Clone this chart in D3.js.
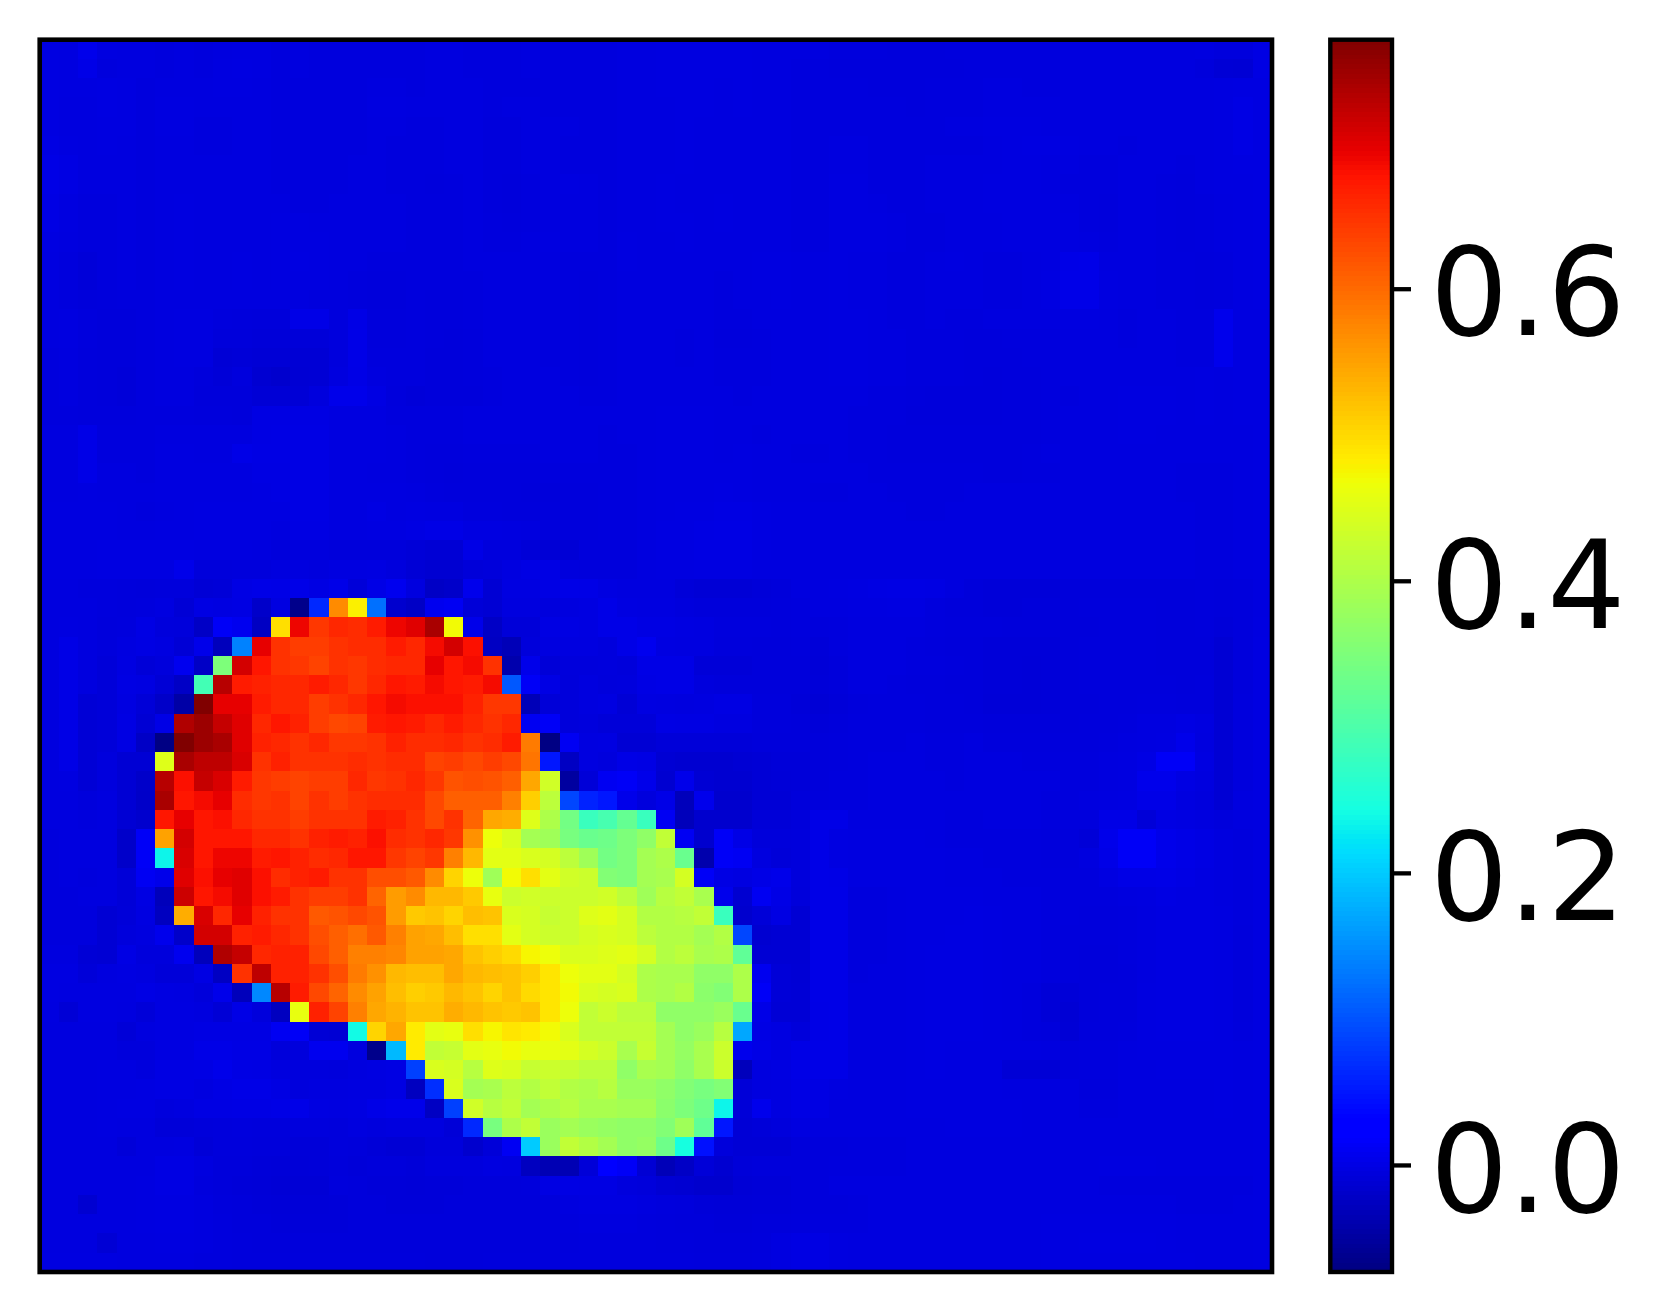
<!DOCTYPE html>
<html>
<head>
<meta charset="utf-8">
<script src="https://cdnjs.cloudflare.com/ajax/libs/d3/7.8.5/d3.min.js"></script>
<style>
  html, body { margin: 0; background: #fff; }
  svg { display: block; }
</style>
</head>
<body>
<div id="chart"></div>
<script>
// heat values, in thousandths, 64 rows of 64 cells
var heat = [
[2,1,9,1,0,0,-1,0, -1,0,1,1,-1,0,-1,-1, -1,-1,-1,-1,0,0,-1,-1, -1,0,-1,-1,-1,-1,0,0, 1,1,1,1,1,0,0,0, 0,-1,-1,-1,-2,-2,-2,-1, -1,-1,-1,-1,-1,0,0,0, 0,0,0,0,1,-1,-1,3],
[2,1,6,-1,0,0,-1,0, -1,1,2,1,-1,0,-1,-1, -1,-1,-1,-1,0,0,-1,-1, -1,0,-1,-1,-1,-1,0,0, 1,1,1,1,1,0,0,-1, -1,-2,-2,-2,-2,-2,-2,-2, -1,-1,-1,-1,-1,0,0,0, 0,0,0,0,-2,-6,-7,3],
[2,1,1,2,1,-1,0,0, 0,1,1,0,-1,-1,-1,-1, -1,0,0,-1,0,0,0,-1, -1,-1,-1,-1,-1,-1,0,0, 1,1,1,0,1,0,0,-1, -1,-1,-1,-2,-2,-2,-1,-1, -1,0,0,-1,-1,0,0,0, 0,0,0,0,0,1,2,2],
[2,0,0,2,1,-1,1,1, 0,0,0,0,-1,-1,-1,-1, -1,1,1,0,0,0,0,-1, 0,0,-1,-1,-1,-1,0,0, 0,1,1,0,1,0,0,-1, -1,-1,-1,-1,-1,-2,-1,-1, -1,0,0,0,0,0,0,0, 0,0,0,0,0,1,4,2],
[2,0,0,1,1,-1,1,1, -1,-1,0,0,-1,-1,-1,-1, -1,0,0,-1,-1,0,0,-2, -2,0,0,0,-1,-1,0,0, 0,1,0,0,0,0,0,-1, -1,-1,-1,-1,-1,-1,-1,0, 0,1,1,1,0,0,0,0, 0,0,0,0,0,1,4,2],
[3,1,0,1,0,-1,0,0, -1,-1,0,0,-1,-1,-1,-1, -1,0,-1,-1,-1,0,0,-2, -2,0,0,-1,-1,-1,0,0, 0,1,0,0,0,0,0,-1, -1,0,0,-1,-1,-1,-1,-1, -1,0,1,2,2,1,0,0, -1,0,0,0,0,1,4,2],
[5,3,0,0,0,-1,0,0, 0,0,0,0,-1,-1,-1,-1, 0,0,-1,-1,-1,0,0,-2, -2,0,0,-1,-1,-1,0,0, 0,1,0,0,0,0,0,-1, -1,0,0,-1,-1,-1,0,0, 0,0,1,1,0,0,-1,-1, 0,0,0,-1,0,1,2,2],
[5,3,0,0,0,-1,0,0, 0,0,0,0,-1,-1,-1,-1, 0,0,-1,-1,-2,-1,0,-2, -3,-1,0,1,0,-1,0,0, 1,0,0,0,0,0,0,-1, -1,1,1,-1,-1,-1,0,0, 0,1,1,1,0,-1,-1,-1, 0,0,-1,-2,0,1,1,2],
[4,1,-1,-1,0,-1,0,1, 0,0,0,0,0,-1,-1,0, 0,0,0,-1,-1,-1,0,-2, -3,-1,0,0,0,-1,0,0, 1,0,0,1,0,0,0,-1, -1,1,1,0,-1,-1,0,0, 0,1,1,1,1,0,-1,-2, 0,0,-1,-2,-1,0,1,2],
[4,1,-1,-1,0,-1,0,1, 0,0,0,0,1,1,0,0, 0,0,0,-1,-1,-1,0,-1, -2,-1,0,0,0,-1,0,0, 1,1,0,1,0,0,0,-1, -1,1,1,1,0,-1,-1,0, 0,0,1,1,1,1,-1,-2, 0,0,-1,-2,-1,0,1,2],
[2,0,-1,-1,0,-1,0,1, 0,0,0,0,1,1,1,0, 0,0,0,-1,-1,-1,0,-1, -1,0,1,0,0,-1,1,0, 0,1,0,0,0,0,0,-1, -1,1,1,1,0,-1,-1,0, 0,0,1,1,1,1,0,-1, 0,0,-1,-2,-1,0,1,2],
[1,-1,-4,-1,0,-1,0,1, 0,0,1,0,1,2,1,0, 0,-1,-1,-1,-1,-1,0,0, 0,0,0,-1,-1,-1,1,0, 0,0,0,0,0,1,1,0, 0,1,0,0,-1,-1,0,1, 0,-1,-1,0,1,6,7,0, 0,0,-1,-1,-2,-1,1,2],
[1,-1,-4,-1,0,-1,0,1, 0,0,1,0,1,1,1,0, -1,-2,-2,-1,-1,-1,-1,0, 0,0,0,-1,-2,-1,0,0, 0,0,0,-1,0,1,1,0, 0,1,0,0,-1,-1,0,0, 0,-1,-1,0,2,7,7,1, 0,0,-1,-1,-2,-1,1,2],
[0,-1,-3,-2,-1,-1,0,0, 0,0,0,0,0,0,-1,-1, -2,-3,-3,-1,-2,-2,-1,0, 0,0,-1,-1,-2,-1,0,0, 0,0,0,-1,0,0,1,0, 0,1,0,0,-1,-1,0,0, 0,-1,-1,0,2,7,7,1, 0,0,-1,-1,-2,-1,1,2],
[0,1,-1,-3,-3,-1,0,1, 1,-1,-2,-3,-3,6,6,-1, 5,-2,-2,-1,-2,-2,-1,0, 0,0,-1,-1,-2,-1,0,0, 0,0,0,-1,-1,0,0,0, 0,1,1,0,-1,-1,0,-1, -1,0,0,0,0,1,1,0, -1,0,0,-1,-1,10,1,1],
[0,1,-1,-3,-3,-1,0,1, 1,-3,-3,-4,-4,-4,-4,-1, 6,-2,-2,-1,-2,-3,-2,0, 0,0,-1,-1,-2,-1,0,0, 0,-1,0,-2,-2,-1,0,0, 0,1,1,0,0,-1,-1,-1, -2,-2,-1,-1,-1,0,0,0, -1,0,0,-1,-1,10,1,1],
[-1,0,-2,-3,-3,-1,0,1, 1,-6,-5,-6,-6,-7,-7,-1, 6,-1,-1,-1,-3,-3,-2,0, 0,0,-1,-1,-2,-1,0,0, 0,-1,0,-1,-1,-1,0,0, 0,1,1,0,0,-1,-1,-1, -2,-2,-2,-1,-1,0,0,0, 0,0,0,-1,-1,10,1,1],
[-1,0,-2,-3,-4,-1,0,0, -2,-5,-1,-9,-12,-8,-7,0, 5,0,-1,-1,-3,-3,-2,-1, 0,0,0,-1,-2,-1,0,0, 0,0,0,-1,-1,-1,0,0, 0,1,1,0,0,-1,-1,-1, -2,-3,-2,-2,-1,0,0,0, 0,0,0,0,1,0,1,1],
[-1,0,-2,-3,-4,-1,0,0, -3,-3,-3,-6,-6,-6,-1,8, 8,3,-2,-4,-3,-3,-3,-1, 0,0,0,0,-1,-1,0,0, 0,0,0,0,-1,0,0,0, 0,0,0,-1,-1,-2,-3,-3, -3,-3,-2,-2,-1,-1,0,0, 1,1,1,0,1,0,1,1],
[-1,-1,-2,-2,-2,-1,-1,-1, -2,-2,-3,3,3,3,3,1, 1,1,-1,-1,-1,-1,0,0, 0,0,0,0,0,0,0,0, 1,1,1,0,0,0,0,0, 0,0,-1,-1,-1,-3,-3,-3, -3,-3,-2,-2,-1,0,0,0, 1,1,1,0,1,0,1,1],
[0,0,6,-1,-1,-1,0,0, 0,0,0,3,4,4,4,1, 1,1,0,-1,-1,-1,0,0, 0,0,0,0,0,-1,0,0, 1,1,1,0,0,-1,0,0, 0,0,-1,-1,-2,-2,-2,-2, -2,-2,-2,-2,-1,0,0,0, 1,1,0,0,0,0,0,1],
[0,0,6,-1,-1,-1,1,1, 0,0,6,4,4,4,4,1, 1,1,0,-1,-2,-2,-1,-1, -1,-1,0,0,0,-1,-1,0, 1,1,1,0,1,0,0,-1, -1,0,-1,-1,-2,-2,-2,-2, -2,-2,-2,-1,0,0,0,0, 0,0,0,0,0,0,0,1],
[0,0,6,0,0,-1,1,1, 1,1,1,3,3,4,4,1, 1,0,0,-1,-2,-3,-2,-2, -2,-2,-1,-1,-1,-1,-1,0, 1,1,1,1,1,0,0,0, 0,0,0,-1,-1,-1,-1,-1, -1,-2,-2,-1,-1,0,0,0, 0,0,0,-1,-1,-1,0,1],
[0,0,1,0,0,0,1,1, 1,1,1,2,3,4,4,1, 1,1,1,0,-1,-2,-2,-2, -2,-3,-3,-2,-2,-1,-1,0, 1,1,1,2,1,0,0,0, -1,-1,0,0,-1,-1,-1,-1, 0,0,0,0,0,0,0,0, 0,0,0,-1,-1,-1,0,1],
[1,1,1,1,0,-1,0,1, 2,2,2,2,2,4,4,1, 1,3,1,2,1,1,-1,-1, -2,-2,-2,-2,-2,-1,-1,0, 1,2,2,3,3,2,1,1, 0,0,0,0,0,-1,-1,0, 0,0,0,0,0,0,0,0, 0,0,0,0,-1,-1,0,1],
[1,1,1,1,0,0,1,1, 2,2,2,2,0,3,3,1, 1,2,2,3,5,5,2,2, 1,0,-2,-2,-2,-1,-1,0, 2,2,3,4,4,2,1,1, 0,0,0,0,0,0,0,0, 0,0,0,0,0,0,0,0, 0,0,0,0,-1,-1,0,1],
[1,1,1,2,2,2,2,2, 1,1,1,0,-2,-1,-1,-3, -3,-3,-3,-5,-7,-7,5,-1, -1,-5,-6,-6,-2,-2,-2,0, 2,2,3,3,3,1,0,0, 0,0,0,0,0,0,0,0, 0,0,0,0,0,0,0,0, 0,0,0,0,-1,-1,0,1],
[1,1,1,2,2,2,2,8, -3,-3,-2,-2,0,0,-1,1, 1,2,-1,-6,-9,-9,-4,-3, 1,4,4,-1,-2,-2,-2,0, 1,1,2,2,2,0,0,0, 0,0,0,0,0,0,0,0, 0,0,0,0,0,0,0,0, 0,0,0,0,-1,-1,0,1],
[0,0,-1,-1, -2,-3,-2,-2,-6,-5,4,6,5,7,3,7,-4,5,12,0,-18, -15,10,-8,2,2,4,6,5,2,0,0,0,-4,-6,-6,-6, -4,-3, 0,0,1,2,3,4,4,3, 0,-3,-4,-4,-4,-4,-3,-3, -3,-3,-3,-3,-3,-2,-3,-2,0],
[0,0,0,-1, -2,-1,1,-6,3,2,3,-15,2,-65,65,570,480,125,-12,-18,12, 15,-5,-8,0,0,-1,0,2,6,2,1,1,-1,-3,-3,-3, -3,-2, -1,0,0,1,1,2,2,-1, -3,-3,-4,-4,-3,-3,-3,-2, -2,-2,-2,-3,-3,-2,-3,-2,0],
[0,1,0,-2, -1,4,-2,-3,-18,18,12,-20,495,690,645,660,655,670,690,700,740, 470,8,-18,-4,-4,3,3,2,6,6,3,3,2,1,-1,-1, -1,-2, -1,-2,-1,0,0,0,0,-1, -2,-2,-2,-3,-3,-3,-3,-3, -2,-2,-2,-3,-3,-2,-4,-2,1],
[0,5,0,-2, 1,3,1,-6,8,-25,140,695,650,640,640,650,655,655,670,660,685, 710,680,-20,-28,-3,1,1,1,-1,6,12,2,1,1,-2,-2, -3,-3, -2,-4,-1,0,0,0,-1,-2, -3,-3,-4,-4,-4,-4,-3,-2, -2,-2,-2,-3,-3,-3,-8,-2,2],
[0,5,0,-4, 2,-5,-2,12,-18,350,710,675,650,645,635,650,645,655,660,660,695, 675,685,650,-40,8,-5,-2,-2,-1,-3,5,5,5,-5,-5,-5, -3,-3, -3,-5,-3,0,0,0,-1,-1, -2,-3,-4,-4,-5,-4,-3,-2, -2,-2,-2,-3,-3,-3,-8,-2,2],
[0,5,0,-4, 3,2,-6,-18,290,730,670,665,660,660,670,660,645,660,675,670,685, 675,670,685,105,18,4,-3,0,-2,-1,4,5,5,-1,-3,-3, -3,-3, -3,-4,-3,0,0,-1,-2,-2, -3,-3,-4,-4,-5,-4,-3,-2, -2,-2,-2,-2,-3,-2,-8,-2,2],
[0,5,-6,-4, 2,-5,-16,-45,770,695,695,670,660,660,640,650,660,675,685,680,680, 680,665,645,645,-32,-5,-3,0,2,-6,2,1,0,1,3,3, -2,-2, -4,-6,-4,-2,-1,-1,-1,-2, -2,-3,-5,-5,-5,-4,-3,-3, -2,-2,-1,-1,-2,-2,-8,-1,2],
[0,5,-6,-4, 3,-8,5,735,750,720,700,660,675,665,640,630,635,670,675,670,660, 670,660,650,660,14,18,-3,-1,-4,-4,-4,4,3,3,1,1, -2,-2, -3,-4,-3,-1,-1,-1,-1,-2, -2,-2,-3,-3,-3,-3,-3,-2, -2,-1,1,1,3,1,-8,-1,2],
[0,5,-6,-4, 3,-18,-70,770,750,740,700,665,660,650,660,645,645,650,665,655,655, 660,650,655,670,585,-70,15,1,2,-8,-8,-4,-4,-4,-4,-4, -3,-3, -3,-3,-2,-1,-1,-1,0,-1, -1,0,-2,-2,-2,-2,-2,-2, -1,0,1,2,8,0,-8,-1,2],
[0,5,-6,-1, -8,-8,450,740,725,725,705,650,665,650,650,650,655,650,655,655,635, 640,630,640,630,590,50,-20,1,-1,5,4,-8,-10,-10,-10,-8, -6,-4, -4,-3,-2,-1,0,0,0,-1, -1,0,0,0,-1,-1,-1,-1, 0,1,4,18,18,2,-8,-1,2],
[0,1,-6,-1, -8,-15,730,680,720,705,670,645,640,635,640,640,660,645,650,660,645, 620,625,620,610,545,435,-50,-5,14,18,8,-10,8,-8,-10,-10, -6,-5, -4,-3,-1,-1,0,0,0,0, -1,0,0,0,0,0,-1,-1, 0,1,9,9,3,0,-8,-1,2],
[0,0,-2,0, -8,-16,740,675,685,695,655,645,650,635,650,640,650,655,655,655,630, 610,610,610,580,510,415,90,60,50,8,-1,6,-30,10,-12,-12, -6,-6, -3,-2,-1,-1,0,0,0,0, 0,0,0,0,0,-1,-1,0, 1,2,6,6,1,-1,-8,0,2],
[0,0,-1,0, -8,-12,675,695,675,680,660,650,650,640,650,650,650,670,665,650,630, 650,605,545,540,450,400,340,280,295,325,280,15,-30,-12,-12,-12, -5,-5, -3,6,6,0,0,0,0,0, -1,-1,0,0,0,-1,-1,-1, 5,5,-5,3,2,0,-2,0,1],
[-1,0,0,0, -15,18,550,710,675,675,675,660,660,650,665,670,665,680,655,650,660, 645,565,465,445,390,385,345,330,335,350,370,420,15,-12,18,5, -3,-3, -2,6,2,1,1,1,1,0, -1,-1,-1,-1,-1,-2,-2,-5, 8,18,18,8,5,3,0,-1,1],
[-1,0,0,0, -15,18,235,705,675,690,690,670,675,665,655,660,675,675,645,635,645, 580,530,455,455,445,440,415,385,340,350,390,400,330,-40,18,15, 0,-4, -2,6,2,1,1,1,1,1, 0,0,-1,-1,-1,-2,-2,0, 6,18,18,8,5,3,0,-1,1],
[-1,0,-1,0, -5,15,8,700,680,695,700,680,655,665,670,650,650,625,625,615,570, 505,465,385,470,495,455,435,430,355,350,390,395,440,18,4,2, 5,8, -2,6,5,1,1,1,1,1, 0,0,0,-1,-1,-1,-1,-1, 2,5,5,6,4,2,0,-1,1],
[-1,-1,0,0, -5,3,-30,715,675,685,700,680,670,650,640,640,650,605,555,570,530, 530,515,460,430,435,430,430,430,435,415,385,410,420,395,10,-10, 14,5, -3,6,6,-1,-1,0,1,1, 1,1,0,0,0,-1,-1,-1, -1,0,1,3,2,2,0,-1,1],
[-1,-1,-1,-8, -4,2,-22,540,705,660,695,665,650,650,615,620,630,620,555,515,520, 505,525,520,445,440,425,430,450,455,440,405,405,410,420,280,-12, -5,3, -8,6,6,-1,-1,0,1,1, 1,2,1,0,0,-1,-1,-2, -2,-1,0,2,2,2,1,-1,1],
[-1,-1,-1,-8, -2,0,10,-15,710,710,665,670,660,650,625,610,595,615,580,550,545, 525,495,495,455,440,430,430,440,445,440,415,405,405,390,405,90, -10,-8, -8,6,6,-1,-1,0,1,1, 2,2,1,0,0,-1,-2,-2, -2,-1,0,2,2,2,1,-2,1],
[0,0,-6,-8, 4,-2,-2,12,-25,735,720,660,665,665,630,610,580,580,575,550,550, 545,520,510,500,475,465,445,445,450,455,440,405,415,395,400,320, -8,-8, -8,6,6,-1,-1,0,1,2, 2,2,1,0,0,-1,-2,-3, -3,-1,0,2,2,2,1,-2,1],
[2,2,-4,0, 2,0,-4,-4,3,-20,650,725,665,665,650,625,585,565,530,525,525, 545,530,525,520,510,490,465,455,455,440,400,395,395,370,370,400, 12,-5, -7,6,6,-1,0,0,1,2, 2,2,1,0,0,-1,-2,-3, -3,-2,0,2,2,2,1,-2,1],
[2,1,1,1, 1,4,2,1,-3,8,-30,145,730,670,630,605,570,550,525,510,515, 530,520,505,520,500,490,470,445,440,445,400,395,405,365,355,400, 18,-5, -6,6,6,0,0,0,1,2, 2,2,1,0,-1,-5,-5,-3, -2,-2,1,2,2,2,1,-2,1],
[1,-6,1,1, 0,-4,2,2,0,-6,5,-2,-22,460,665,635,580,545,535,520,520, 540,530,520,515,520,490,465,420,430,415,415,370,370,370,380,330, 6,-6, -6,5,6,0,0,0,1,2, 2,2,1,0,-1,-5,-7,-3, -2,-2,1,2,2,2,1,-2,1],
[0,0,0,0, -5,0,2,2,3,3,3,3,14,18,-6,-8,240,505,545,485,455, 460,495,475,490,485,470,445,420,420,420,420,390,370,380,410,170, 4,2, -3,5,6,0,0,0,1,2, 2,2,1,0,-1,-2,-6,-2, -2,-1,1,2,2,2,1,-1,1],
[0,0,0,0, -2,-2,2,2,6,6,4,4,-3,-2,12,12,0,-65,185,485,420, 425,455,460,470,460,460,455,440,430,395,425,390,375,395,430,10, 5,2, 5,6,6,0,0,0,1,2, 1,1,1,1,1,0,-2,-1, -1,0,1,1,1,1,1,0,1],
[0,0,0,1, 1,-1,3,3,4,8,4,3,0,-1,-1,-2,0,2,3,85,445, 440,410,450,445,425,430,425,415,415,370,395,390,370,395,430,-25, 0,2, 5,6,6,0,0,0,1,2, 1,1,1,-6,-6,-6,-2,-1, -1,0,0,1,1,1,1,0,1],
[0,0,0,1, 1,2,3,3,1,4,6,6,3,-1,0,0,1,1,3,-22,70, 445,390,395,415,405,420,405,400,410,380,380,370,355,345,355,-5, 0,1, 4,3,1,0,0,0,1,1, 1,1,1,0,0,0,0,-2, -2,0,0,0,0,0,1,0,1],
[0,0,0,1, 2,2,-1,0,3,3,4,4,5,7,2,1,2,6,8,8,-20, 85,435,410,420,390,400,410,395,395,390,390,365,350,335,235,-5, 10,1, 4,3,0,0,0,0,1,1, 1,1,1,1,0,0,0,-1, -1,0,0,0,0,0,1,0,1],
[0,0,0,1, 0,0,-4,-4,-3,-2,-1,-2,-2,-1,-1,-2,0,-1,0,0,0, -5,65,345,400,420,380,390,380,375,370,370,355,385,320,50,-6, -4,-2, 1,0,0,0,0,0,0,0, 1,1,1,1,0,0,0,0, 0,0,0,0,0,0,0,0,1],
[0,0,0,0, -4,0,0,1,-5,-2,-2,-3,-3,-4,-4,-2,-3,-5,-7,-7,-3, -3,-12,-4,15,200,380,420,405,390,370,375,335,245,45,-3,-6, -6,-6, -3,-2,-2,-1,-1,-1,0,0, 0,0,0,0,0,0,0,0, 0,0,0,0,0,0,0,0,1],
[0,0,0,0, 0,0,3,3,0,-3,-3,-4,-5,-5,-4,-3,-4,-3,-3,-4,-1, -1,-1,1,0,-22,-35,-35,-5,28,18,-8,-28,-18,-5,-10,-4, -3,-3, -3,-2,-1,-1,-1,-1,0,0, 0,0,0,0,0,0,0,0, 1,1,1,0,0,0,0,0,1],
[0,0,0,0, 0,1,3,3,-1,-3,-4,-5,-6,-6,-6,-2,-3,-4,-4,-5,-4, -4,-3,-3,-3,-2,3,4,3,3,-1,-3,-8,-9,-12,-12,-6, -5,-5, -3,-2,0,0,0,0,0,0, 0,0,0,0,0,0,0,0, -1,-1,-1,-1,-1,-1,-1,-1,1],
[0,0,-10,0, 0,1,2,2,0,-2,-3,-4,-5,-5,-5,-4, -3,-3,-4,-4,-4,-3,-3,-3, -3,-3,-2,0,2,2,2,0, -1,-2,-4,-5,-5,-4,-4,-3, -2,-2,-1,0,0,0,0,0, 0,0,0,0,0,0,0,0, 0,0,0,-1,-1,-1,0,1],
[0,0,0,0, 0,1,2,2,0,-1,-3,-3,-4,-4,-4,-4, -3,-3,-3,-3,-3,-3,-3,-3, -3,-3,-2,-1,0,0,0,-1, -2,-3,-3,-4,-4,-3,-3,-2, -1,-1,-1,0,0,0,0,0, 0,0,0,0,1,1,1,1, 1,1,1,0,0,0,0,1],
[0,0,0,-7, 0,0,1,1,0,-1,-2,-3,-3,-3,-3,-3, -3,-3,-3,-3,-3,-3,-3,-3, -3,-3,-2,-2,-1,-1,-1,-1, -2,-2,-3,-3,-3,-2,1,3, 3,1,0,0,0,0,0,0, 0,0,0,0,1,1,2,2, 2,2,1,0,0,0,0,1],
[1,1,1,1, 0,0,0,0,-1,-1,-2,-2,-2,-2,-2,-2, -2,-2,-2,-2,-3,-3,-3,-2, -2,-2,-2,-1,-1,-1,-1,-1, -1,-1,-2,-2,-2,-1,1,3, 3,1,0,0,0,0,0,0, 0,0,0,0,1,1,1,1, 1,1,1,1,0,0,0,1]
];
var heatScale = 1000;
var backgroundLevel = -4; // the flat blue sits a little under zero

var colorDomain = [-0.0733, 0.7705];
var barTicks = [0, 0.2, 0.4, 0.6];

// matplotlib jet control points
var jetR = [[0, 0.35, 0.66, 0.89, 1], [0, 0, 1, 1, 0.5]];
var jetG = [[0, 0.125, 0.375, 0.64, 0.91, 1], [0, 0, 1, 1, 0, 0]];
var jetB = [[0, 0.11, 0.34, 0.65, 1], [0.5, 1, 1, 0, 0]];

var w_width = 1665, w_height = 1312;
var plot = {left: 39.7, top: 39.7, right: 1272, bottom: 1272};
var bar = {left: 1330.3, right: 1392};

var svg = d3.select("#chart").append("svg")
    .attr("width", w_width)
    .attr("height", w_height);

var r = d3.scaleLinear().domain(jetR[0]).range(jetR[1]),
    g = d3.scaleLinear().domain(jetG[0]).range(jetG[1]),
    b = d3.scaleLinear().domain(jetB[0]).range(jetB[1]);

var norm = d3.scaleLinear().domain(colorDomain).range([0, 1]).clamp(true);

function jet(v) {
  var t = norm(v);
  return d3.rgb(r(t) * 255, g(t) * 255, b(t) * 255) + "";
}

function cellValue(d) {
  return (Math.abs(d) < 30 ? d + backgroundLevel : d) / heatScale;
}

var x = d3.scaleBand().domain(d3.range(64)).range([plot.left, plot.right]),
    y = d3.scaleBand().domain(d3.range(64)).range([plot.top, plot.bottom]),
    yBar = d3.scaleLinear().domain(colorDomain).range([plot.bottom, plot.top]);

// heatmap
svg.append("g").attr("class", "cells")
  .selectAll("g")
  .data(heat)
  .join("g")
    .attr("transform", function(d, i) { return "translate(0," + y(i) + ")"; })
  .selectAll("rect")
  .data(function(d) { return d; })
  .join("rect")
    .attr("x", function(d, i) { return x(i); })
    .attr("width", x.bandwidth() + 0.5)
    .attr("height", y.bandwidth() + 0.5)
    .attr("shape-rendering", "crispEdges")
    .attr("fill", function(d) { return jet(cellValue(d)); });

svg.append("rect")
    .attr("x", plot.left)
    .attr("y", plot.top)
    .attr("width", plot.right - plot.left)
    .attr("height", plot.bottom - plot.top)
    .attr("fill", "none")
    .attr("stroke", "#000")
    .attr("stroke-width", 4.6);

// colorbar, 256 levels like the colormap
var levels = d3.range(256).map(function(i) {
  return colorDomain[0] + (colorDomain[1] - colorDomain[0]) * i / 256;
});
var levelStep = (colorDomain[1] - colorDomain[0]) / 256;

svg.append("g").attr("class", "colorbar")
  .selectAll("rect")
  .data(levels)
  .join("rect")
    .attr("x", bar.left)
    .attr("width", bar.right - bar.left)
    .attr("y", function(d) { return yBar(d + levelStep); })
    .attr("height", function(d) { return yBar(d) - yBar(d + levelStep) + 0.5; })
    .attr("shape-rendering", "crispEdges")
    .attr("fill", function(d) { return jet(d + levelStep / 2); });

svg.append("rect")
    .attr("x", bar.left)
    .attr("y", plot.top)
    .attr("width", bar.right - bar.left)
    .attr("height", plot.bottom - plot.top)
    .attr("fill", "none")
    .attr("stroke", "#000")
    .attr("stroke-width", 4.4);

var axis = d3.axisRight(yBar)
    .tickValues(barTicks)
    .tickFormat(d3.format(".1f"))
    .tickSize(19)
    .tickPadding(19);

var axisG = svg.append("g")
    .attr("transform", "translate(" + bar.right + ",0)")
    .call(axis);

axisG.select(".domain").remove();
axisG.selectAll(".tick line").attr("stroke", "#000").attr("stroke-width", 4.3);
axisG.selectAll(".tick text")
    .attr("dy", "0.376em")
    .attr("fill", "#000")
    .style("font-family", "'DejaVu Sans'")
    .style("font-size", "123px");
</script>
</body>
</html>
